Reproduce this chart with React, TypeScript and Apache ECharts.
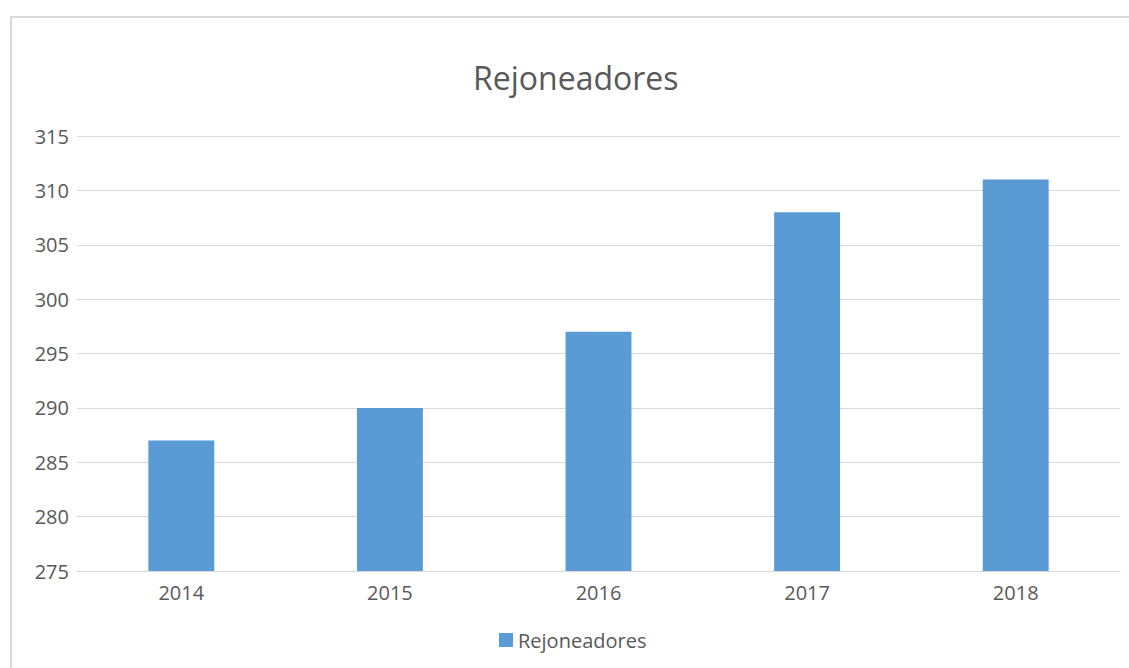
import React, { useEffect, useRef } from "react";
import * as echarts from "echarts";

const categories = ["2014", "2015", "2016", "2017", "2018"];
const values = [287, 290, 297, 308, 311];
const seriesName = "Rejoneadores";
const titleText = "Rejoneadores";

export default function App() {
  const ref = useRef<HTMLDivElement>(null);
  useEffect(() => {
    if (!ref.current) return;
    const chart = echarts.init(ref.current, undefined, { renderer: "svg" });
    const font = "'Open Sans', 'Noto Sans', sans-serif";
    chart.setOption({
      animation: false,
      textStyle: { fontFamily: font },
      title: {
        text: titleText,
        left: 468,
        top: 56,
        textStyle: { fontSize: 32, fontWeight: "normal", color: "#595959", fontFamily: font },
      },
      graphic: [
        {
          type: "rect",
          shape: { x: 11, y: 17, width: 1140, height: 680 },
          style: { fill: "none", stroke: "#d9d9d9", lineWidth: 2 },
          silent: true,
          z: -1,
        },
      ],
      legend: {
        data: [seriesName],
        bottom: 13,
        left: 494,
        icon: "rect",
        itemWidth: 14,
        itemHeight: 14,
        itemGap: 8,
        textStyle: { fontSize: 20, color: "#595959", fontFamily: font },
      },
      grid: { left: 77, right: 9, top: 136, bottom: 97, containLabel: false },
      xAxis: {
        type: "category",
        data: categories,
        axisLine: { show: true, lineStyle: { color: "#d9d9d9", width: 1 } },
        axisTick: { show: false },
        axisLabel: { color: "#595959", fontSize: 20, margin: 11, fontFamily: font },
      },
      yAxis: {
        type: "value",
        min: 275,
        max: 315,
        interval: 5,
        axisLine: { show: false },
        axisTick: { show: false },
        axisLabel: { color: "#595959", fontSize: 20, margin: 8, fontFamily: font },
        splitLine: { lineStyle: { color: "#d9d9d9", width: 1 } },
      },
      series: [
        {
          name: seriesName,
          type: "bar",
          data: values,
          barWidth: "31.6%",
          itemStyle: { color: "#5b9bd5" },
        },
      ],
    });
    return () => chart.dispose();
  }, []);
  return (
    <div
      ref={ref}
      style={{ position: "fixed", left: 0, top: 0, width: 1129, height: 668, background: "#fff" }}
    />
  );
}
